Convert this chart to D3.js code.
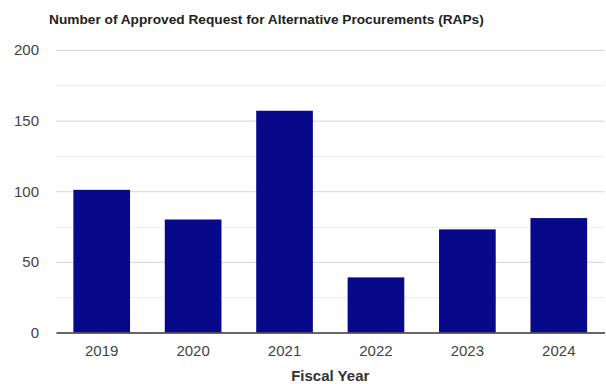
<!DOCTYPE html>
<html>
<head>
<meta charset="utf-8">
<script src="https://cdn.jsdelivr.net/npm/d3@7"></script>
<style>
  html, body { margin: 0; padding: 0; background: #fff; }
  svg { display: block; font-family: "Liberation Sans", Arial, sans-serif; }
</style>
</head>
<body>
<svg id="chart" width="606" height="384"></svg>
<script>
// Approved RAPs per fiscal year
const years = ["2019", "2020", "2021", "2022", "2023", "2024"];
const approved = [101, 80, 157, 39, 73, 81];
const yTicks = [0, 50, 100, 150, 200];
const yMinorTicks = [25, 75, 125, 175];

const svg = d3.select("#chart");
const margin = { top: 50, right: 1.5, bottom: 51.5, left: 56 };
const width = 606 - margin.left - margin.right;
const height = 384 - margin.top - margin.bottom;

const g = svg.append("g").attr("transform", `translate(${margin.left},${margin.top})`);

const x = d3.scaleBand().domain(years).range([0, width]).paddingInner(0.38).paddingOuter(0.19);
const y = d3.scaleLinear().domain([0, 200]).range([height, 0]);

// minor gridlines
g.append("g").selectAll("line").data(yMinorTicks).join("line")
  .attr("x1", 0).attr("x2", width)
  .attr("y1", d => Math.round(y(d)) + 0.5).attr("y2", d => Math.round(y(d)) + 0.5)
  .attr("stroke", "#ededed").attr("stroke-width", 1);

// major gridlines + labels
const yAxis = d3.axisLeft(y).tickValues(yTicks).tickSize(-width).tickPadding(17);
const ya = g.append("g").call(yAxis);
ya.select(".domain").remove();
ya.selectAll(".tick line").attr("stroke", d => d === 0 ? "none" : "#d6d6d6");
ya.selectAll(".tick text").attr("fill", "#444").style("font-size", "15px");

// bars
g.append("g").selectAll("rect").data(years).join("rect")
  .attr("x", d => x(d))
  .attr("width", x.bandwidth())
  .attr("y", (d, i) => y(approved[i]))
  .attr("height", (d, i) => height - y(approved[i]))
  .attr("fill", "#08088a");

// baseline + category labels
const xAxis = d3.axisBottom(x).tickSize(0).tickPadding(13);
const xa = g.append("g").attr("transform", `translate(0,${height})`).call(xAxis);
xa.select(".domain").attr("stroke", "#333").attr("stroke-width", 1.3);
xa.selectAll(".tick text").attr("fill", "#444").style("font-size", "15px");

// axis title
svg.append("text")
  .attr("x", margin.left + width / 2).attr("y", 381)
  .attr("text-anchor", "middle")
  .attr("font-weight", "bold").attr("font-size", "15px").attr("fill", "#333")
  .text("Fiscal Year");

// chart title
svg.append("text")
  .attr("x", 49).attr("y", 24)
  .attr("font-weight", "bold").attr("font-size", "13.7px").attr("fill", "#222")
  .text("Number of Approved Request for Alternative Procurements (RAPs)");
</script>
</body>
</html>
